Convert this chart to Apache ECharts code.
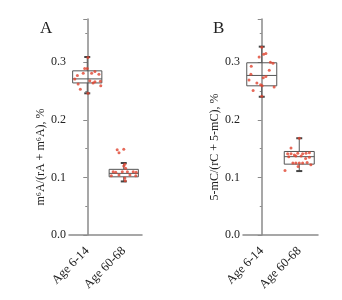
<!DOCTYPE html>
<html><head><meta charset="utf-8">
<script src="https://cdn.jsdelivr.net/npm/echarts@6/dist/echarts.min.js"></script>
<style>html,body{margin:0;padding:0;background:#fff}#c{width:342px;height:300px}</style>
</head><body><div id="c"></div>
<script>
const categories = ['Age 6-14', 'Age 60-68'];
const panelLabels = ['A', 'B'];
const yNames = ['m\u2076A/(rA + m\u2076A), %', '5-mC/(rC + 5-mC), %'];
const yTicks = [0, 0.1, 0.2, 0.3];

// box stats: [min, Q1, median, Q3, max]
const boxA = [[0.246, 0.264, 0.271, 0.285, 0.309], [0.093, 0.101, 0.107, 0.114, 0.125]];
const boxB = [[0.240, 0.259, 0.277, 0.299, 0.327], [0.111, 0.123, 0.136, 0.145, 0.168]];

// individual points (value) and horizontal jitter (category units)
const a1Values = [0.308, 0.289, 0.289, 0.284, 0.281, 0.281, 0.279, 0.277, 0.271, 0.268, 0.266, 0.267, 0.262, 0.264, 0.259, 0.253, 0.246];
const a1Jitter = [0.02, -0.07, 0.0, 0.21, -0.11, 0.12, 0.32, -0.27, -0.34, 0.07, 0.21, 0.36, -0.25, 0.16, 0.37, -0.19, 0.02];
const a2Values = [0.148, 0.143, 0.149, 0.123, 0.120, 0.116, 0.110, 0.109, 0.110, 0.110, 0.110, 0.109, 0.103, 0.104, 0.104, 0.103, 0.099, 0.094];
const a2Jitter = [-0.18, -0.13, 0.0, 0.03, 0.0, 0.05, -0.29, -0.22, -0.04, 0.10, 0.26, 0.34, -0.34, -0.13, 0.17, 0.33, 0.03, 0.04];
const b1Values = [0.326, 0.314, 0.315, 0.309, 0.300, 0.298, 0.293, 0.286, 0.279, 0.275, 0.273, 0.269, 0.264, 0.261, 0.259, 0.257, 0.251, 0.241];
const b1Jitter = [0.0, 0.05, 0.11, -0.07, 0.23, 0.30, -0.28, 0.20, -0.29, 0.11, 0.04, -0.34, -0.13, -0.03, 0.01, 0.33, -0.23, 0.0];
const b2Values = [0.168, 0.151, 0.141, 0.141, 0.139, 0.142, 0.141, 0.142, 0.143, 0.136, 0.137, 0.137, 0.133, 0.135, 0.125, 0.125, 0.125, 0.125, 0.126, 0.122, 0.112, 0.119];
const b2Jitter = [0.0, -0.22, -0.31, -0.22, -0.13, -0.04, 0.09, 0.18, 0.27, -0.28, -0.09, 0.05, 0.17, 0.27, -0.17, -0.09, 0.0, 0.09, 0.21, 0.31, -0.38, -0.03];

const FONT = '"Liberation Serif", "Times New Roman", serif';
const AXIS_COLOR = '#8a8a8a';
const POINT_COLOR = '#e0442f';

function pts(cat, vals, jit) { return vals.map((v, i) => [cat + jit[i], v]); }
function boxData(b) { return b.map((s, i) => [i].concat(s)); }

const grids = [
  { left: 69, top: 19, width: 73, height: 216 },
  { left: 243, top: 19, width: 75, height: 216 }
];

const xAxis = [], yAxis = [], series = [];
[boxA, boxB].forEach((box, g) => {
  xAxis.push({
    type: 'category', gridIndex: g, data: categories, boundaryGap: true,
    axisLine: { lineStyle: { color: AXIS_COLOR, width: 1.5 } },
    axisTick: { alignWithLabel: true, inside: true, length: 3, lineStyle: { color: AXIS_COLOR } },
    axisLabel: { rotate: 45, margin: 14, fontFamily: FONT, fontSize: 12.5, color: '#222', interval: 0 },
    splitLine: { show: false }
  });
  xAxis.push({
    type: 'value', gridIndex: g, min: -0.5, max: 1.5, show: false
  });
  yAxis.push({
    type: 'value', gridIndex: g, min: 0, max: 0.375, interval: 0.1,
    name: yNames[g], nameLocation: 'middle', nameGap: g === 0 ? 18 : 21,
    nameTextStyle: { fontFamily: FONT, fontSize: 12, color: '#222', padding: [0, g === 0 ? 60 : 40, 0, 0] },
    axisLine: { show: true, lineStyle: { color: AXIS_COLOR, width: 1.5 } },
    axisTick: { show: true, length: 4, lineStyle: { color: AXIS_COLOR } },
    minorTick: { show: true, splitNumber: 2, length: 2, lineStyle: { color: AXIS_COLOR } },
    axisLabel: { fontFamily: FONT, fontSize: 12, color: '#222', margin: 3, showMaxLabel: false, formatter: v => v.toFixed(1) },
    splitLine: { show: false }
  });
  series.push({
    type: 'custom', xAxisIndex: g * 2 + 1, yAxisIndex: g, data: boxData(box), z: 2,
    renderItem: function (params, api) {
      const c = api.value(0);
      const mn = api.coord([c, api.value(1)]);
      const q1 = api.coord([c, api.value(2)]);
      const md = api.coord([c, api.value(3)]);
      const q3 = api.coord([c, api.value(4)]);
      const mx = api.coord([c, api.value(5)]);
      const hw = api.size([1, 0])[0] * 0.4;
      const cap = 3;
      const stroke = { stroke: '#555', lineWidth: 1, fill: null };
      return {
        type: 'group', children: [
          { type: 'line', shape: { x1: mx[0], y1: mx[1], x2: q3[0], y2: q3[1] }, style: stroke },
          { type: 'line', shape: { x1: q1[0], y1: q1[1], x2: mn[0], y2: mn[1] }, style: stroke },
          { type: 'line', shape: { x1: mx[0] - cap, y1: mx[1], x2: mx[0] + cap, y2: mx[1] }, style: { stroke: '#444', lineWidth: 2 } },
          { type: 'line', shape: { x1: mn[0] - cap, y1: mn[1], x2: mn[0] + cap, y2: mn[1] }, style: { stroke: '#444', lineWidth: 2 } },
          { type: 'rect', shape: { x: q3[0] - hw, y: q3[1], width: 2 * hw, height: q1[1] - q3[1] }, style: { stroke: '#555', lineWidth: 1, fill: 'rgba(255,255,255,0)' } },
          { type: 'line', shape: { x1: md[0] - hw, y1: md[1], x2: md[0] + hw, y2: md[1] }, style: stroke }
        ]
      };
    }
  });
});

const pointSets = [[pts(0, a1Values, a1Jitter), pts(1, a2Values, a2Jitter)], [pts(0, b1Values, b1Jitter), pts(1, b2Values, b2Jitter)]];
pointSets.forEach((sets, g) => {
  series.push({
    type: 'scatter', xAxisIndex: g * 2 + 1, yAxisIndex: g, z: 3,
    data: sets[0].concat(sets[1]), symbolSize: 3,
    itemStyle: { color: POINT_COLOR }
  });
});

const chart = echarts.init(document.getElementById('c'), null, { renderer: 'canvas' });
chart.setOption({
  animation: false,
  backgroundColor: '#fff',
  title: [
    { text: panelLabels[0], left: 35, top: 15, textStyle: { fontFamily: FONT, fontSize: 17, fontWeight: 'normal', color: '#222' } },
    { text: panelLabels[1], left: 208, top: 15, textStyle: { fontFamily: FONT, fontSize: 17, fontWeight: 'normal', color: '#222' } }
  ],
  grid: grids,
  xAxis: xAxis,
  yAxis: yAxis,
  series: series
});
</script></body></html>
